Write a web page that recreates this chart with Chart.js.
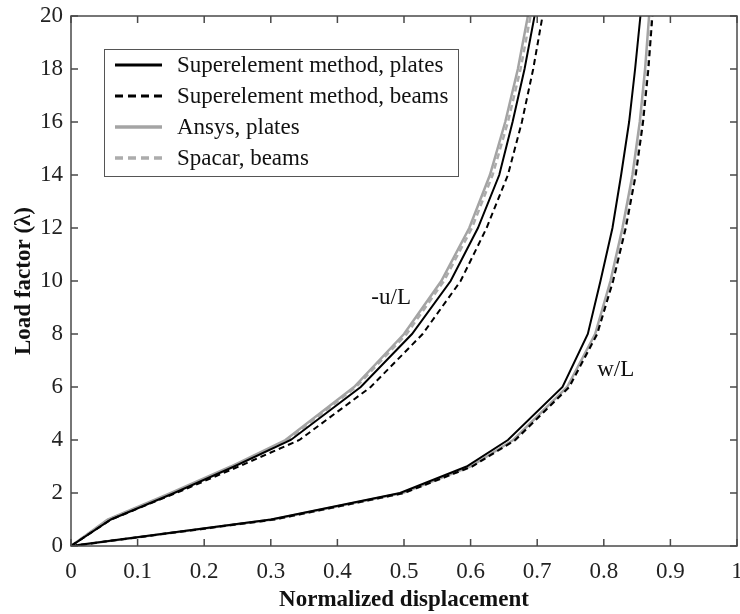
<!DOCTYPE html>
<html>
<head>
<meta charset="utf-8">
<script src="https://cdn.jsdelivr.net/npm/chart.js@4"></script>
<style>
    html, body { margin: 0; padding: 0; background: #fff; }
    #chart { display: block; }
</style>
</head>
<body>
<canvas id="chart" width="740" height="614"></canvas>
<script>
// load steps shared by every curve
const loadSteps = [0, 1, 2, 3, 4, 6, 8, 10, 12, 14, 16, 18, 20];

// -u/L curves
const uSuperPlates = [0, 0.060, 0.155, 0.245, 0.330, 0.435, 0.512, 0.570, 0.611, 0.643, 0.663, 0.681, 0.696];
const uSuperBeams  = [0, 0.060, 0.158, 0.252, 0.343, 0.450, 0.528, 0.585, 0.624, 0.656, 0.677, 0.694, 0.708];
const uAnsysPlates = [0, 0.055, 0.150, 0.240, 0.322, 0.425, 0.500, 0.556, 0.598, 0.629, 0.652, 0.671, 0.686];
const uSpacarBeams = [0, 0.056, 0.152, 0.242, 0.325, 0.428, 0.504, 0.560, 0.602, 0.633, 0.656, 0.675, 0.690];

// w/L curves
const wSuperPlates = [0, 0.300, 0.494, 0.594, 0.656, 0.738, 0.776, 0.795, 0.813, 0.826, 0.838, 0.847, 0.855];
const wSuperBeams  = [0, 0.305, 0.500, 0.602, 0.667, 0.748, 0.790, 0.814, 0.833, 0.848, 0.859, 0.867, 0.873];
const wAnsysPlates = [0, 0.303, 0.498, 0.600, 0.664, 0.745, 0.787, 0.810, 0.828, 0.843, 0.854, 0.862, 0.868];
const wSpacarBeams = [0, 0.305, 0.500, 0.602, 0.667, 0.748, 0.790, 0.813, 0.832, 0.847, 0.858, 0.866, 0.872];

const seriesNames = ['Superelement method, plates', 'Superelement method, beams', 'Ansys, plates', 'Spacar, beams'];
const curveLabels = [
    { text: '-u/L', x: 0.451, y: 9.36 },
    { text: 'w/L', x: 0.790, y: 6.64 }
];

const SERIF = '"Liberation Serif", "Times New Roman", serif';
const FONT_SIZE = 23;
const styles = [
    { color: '#000000', width: 2, dash: [] },
    { color: '#000000', width: 2, dash: [6, 4] },
    { color: '#a4a4a4', width: 2.5, dash: [] },
    { color: '#acacac', width: 2.5, dash: [6, 4] }
];

function toPoints(xs) {
    return xs.map((x, i) => ({ x: x, y: loadSteps[i] }));
}

function makeDataset(index, xs, showInLegend) {
    const s = styles[index];
    return {
        label: seriesNames[index],
        data: toPoints(xs),
        borderColor: s.color,
        borderWidth: s.width,
        borderDash: s.dash,
        pointRadius: 0,
        tension: 0,
        fill: false,
        inLegend: showInLegend
    };
}

const frameAndLegend = {
    id: 'frameAndLegend',
    afterDraw(chart) {
        const ctx = chart.ctx;
        const area = chart.chartArea;
        const xs = chart.scales.x;
        const ys = chart.scales.y;
        const tick = 7;

        ctx.save();
        ctx.strokeStyle = '#4a4a4a';
        ctx.lineWidth = 1.5;
        ctx.strokeRect(area.left, area.top, area.right - area.left, area.bottom - area.top);

        ctx.beginPath();
        xs.ticks.forEach(t => {
            const px = xs.getPixelForValue(t.value);
            ctx.moveTo(px, area.bottom); ctx.lineTo(px, area.bottom - tick);
            ctx.moveTo(px, area.top); ctx.lineTo(px, area.top + tick);
        });
        ys.ticks.forEach(t => {
            const py = ys.getPixelForValue(t.value);
            ctx.moveTo(area.left, py); ctx.lineTo(area.left + tick, py);
            ctx.moveTo(area.right, py); ctx.lineTo(area.right - tick, py);
        });
        ctx.stroke();

        // curve names
        ctx.fillStyle = '#111';
        ctx.font = FONT_SIZE + 'px ' + SERIF;
        ctx.textAlign = 'left';
        ctx.textBaseline = 'middle';
        curveLabels.forEach(l => {
            ctx.fillText(l.text, xs.getPixelForValue(l.x), ys.getPixelForValue(l.y));
        });

        // legend box inside the plot
        const box = { left: 104, top: 49, right: 458, bottom: 176 };
        ctx.fillStyle = '#fff';
        ctx.fillRect(box.left, box.top, box.right - box.left, box.bottom - box.top);
        ctx.strokeStyle = '#555';
        ctx.lineWidth = 1;
        ctx.strokeRect(box.left + 0.5, box.top + 0.5, box.right - box.left, box.bottom - box.top);

        chart.data.datasets.filter(d => d.inLegend).forEach((d, i) => {
            const y = 65 + i * 31;
            ctx.beginPath();
            ctx.strokeStyle = d.borderColor;
            ctx.lineWidth = d.borderWidth + 1;
            ctx.setLineDash(d.borderDash.length ? [8, 5] : []);
            ctx.moveTo(115, y);
            ctx.lineTo(162, y);
            ctx.stroke();
            ctx.setLineDash([]);
            ctx.fillStyle = '#111';
            ctx.fillText(d.label, 177, y + 1);
        });
        ctx.restore();
    }
};

const chart = new Chart(document.getElementById('chart'), {
    type: 'line',
    data: {
        datasets: [
            makeDataset(0, uSuperPlates, true),
            makeDataset(1, uSuperBeams, true),
            makeDataset(2, uAnsysPlates, true),
            makeDataset(3, uSpacarBeams, true),
            makeDataset(0, wSuperPlates, false),
            makeDataset(1, wSuperBeams, false),
            makeDataset(2, wAnsysPlates, false),
            makeDataset(3, wSpacarBeams, false)
        ]
    },
    options: {
        responsive: false,
        animation: false,
        devicePixelRatio: 1,
        layout: { padding: { top: 16, right: 3, left: 0, bottom: 0 } },
        plugins: {
            legend: { display: false },
            tooltip: { enabled: false }
        },
        scales: {
            x: {
                type: 'linear',
                min: 0,
                max: 1,
                ticks: {
                    stepSize: 0.1,
                    color: '#222',
                    font: { family: SERIF, size: FONT_SIZE },
                    padding: 12,
                    maxRotation: 0,
                    callback: v => String(Number(v.toFixed(1)))
                },
                grid: { drawOnChartArea: false, drawTicks: false },
                border: { display: false },
                title: {
                    display: true,
                    text: 'Normalized displacement',
                    color: '#111',
                    font: { family: SERIF, size: FONT_SIZE, weight: 'bold' },
                    padding: { top: -2, bottom: 0 }
                },
                afterFit: s => { s.height = 68; s.paddingLeft = 0; s.paddingRight = 0; }
            },
            y: {
                type: 'linear',
                min: 0,
                max: 20,
                ticks: {
                    stepSize: 2,
                    color: '#222',
                    font: { family: SERIF, size: FONT_SIZE },
                    padding: 8
                },
                grid: { drawOnChartArea: false, drawTicks: false },
                border: { display: false },
                title: {
                    display: true,
                    text: 'Load factor (λ)',
                    color: '#111',
                    font: { family: SERIF, size: FONT_SIZE, weight: 'bold' },
                    padding: { top: 10, bottom: 0 }
                },
                afterFit: s => { s.width = 71; s.paddingTop = 0; s.paddingBottom = 0; }
            }
        }
    },
    plugins: [frameAndLegend]
});
</script>
</body>
</html>
